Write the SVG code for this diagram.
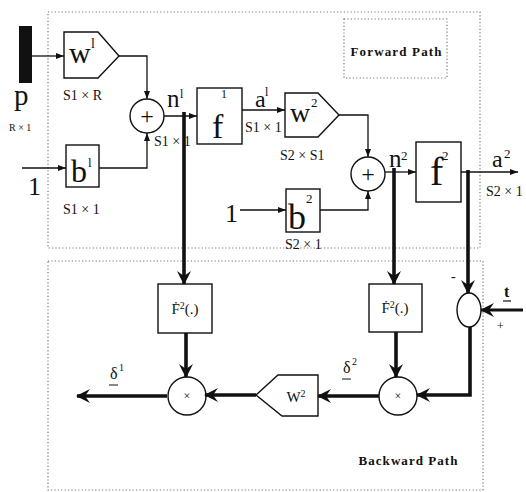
<svg xmlns="http://www.w3.org/2000/svg" width="526" height="492" viewBox="0 0 526 492">
<style>
text{font-family:"Liberation Serif","Times New Roman",serif;fill:#111}
.box{fill:none;stroke:#111;stroke-width:1.4}
.dot{fill:none;stroke:#777;stroke-width:1.2;stroke-dasharray:1.2,2.2}
.thin{fill:none;stroke:#111;stroke-width:1.3}
.thick{fill:none;stroke:#111;stroke-width:3.6}
.dim{font-size:14px}
.lbl{font-size:15px}
.bold{font-weight:bold;font-size:13px}
</style>
<defs>
<marker id="a" viewBox="0 0 8 6" refX="8" refY="3" markerWidth="8" markerHeight="6" markerUnits="userSpaceOnUse" orient="auto"><path d="M0,0 L8,3 L0,6 z" fill="#111"/></marker>
<marker id="A" viewBox="0 0 14 14" refX="13" refY="7" markerWidth="14" markerHeight="14" markerUnits="userSpaceOnUse" orient="auto"><path d="M0,0 L14,7 L0,14 L5,7 z" fill="#111"/></marker>
</defs>
<rect width="526" height="492" fill="#fff"/>
<g id="frames">
<rect class="dot" x="48" y="12" width="432" height="236"/>
<rect class="dot" x="344" y="19" width="103" height="59"/>
<rect class="dot" x="48" y="261" width="435" height="229"/>
<text class="bold" x="396" y="56" text-anchor="middle" textLength="91">Forward Path</text>
<text class="bold" x="408" y="465" text-anchor="middle" textLength="99">Backward Path</text>
</g>
<g id="connectors">
<line class="thin" x1="32" y1="56" x2="64" y2="56" marker-end="url(#a)"/>
<polyline class="thin" points="119,56 147,56 147,99" marker-end="url(#a)"/>
<line class="thin" x1="22" y1="168" x2="66" y2="168" marker-end="url(#a)"/>
<polyline class="thin" points="99,168 147,168 147,133" marker-end="url(#a)"/>
<line class="thin" x1="164" y1="116" x2="197" y2="116" marker-end="url(#a)"/>
<line class="thin" x1="242" y1="110" x2="285" y2="110" marker-end="url(#a)"/>
<polyline class="thin" points="339,115 368,115 368,157" marker-end="url(#a)"/>
<line class="thin" x1="240" y1="210" x2="286" y2="210" marker-end="url(#a)"/>
<polyline class="thin" points="320,210 368,210 368,191" marker-end="url(#a)"/>
<line class="thin" x1="385" y1="172" x2="416" y2="172" marker-end="url(#a)"/>
<line class="thin" x1="461" y1="172" x2="518" y2="172" marker-end="url(#a)"/>
<line class="thick" x1="184" y1="112" x2="184" y2="284" marker-end="url(#A)"/>
<line class="thick" x1="394" y1="168" x2="394" y2="284" marker-end="url(#A)"/>
<line class="thick" x1="468" y1="170" x2="468" y2="293" marker-end="url(#A)"/>
<line class="thick" x1="186" y1="333" x2="186" y2="377" marker-end="url(#A)"/>
<line class="thick" x1="396" y1="332" x2="396" y2="377" marker-end="url(#A)"/>
<line class="thick" x1="167" y1="396" x2="77" y2="396" marker-end="url(#A)"/>
<line class="thick" x1="379" y1="396" x2="318" y2="396" marker-end="url(#A)"/>
<line class="thick" x1="256" y1="395" x2="205" y2="395" marker-end="url(#A)"/>
<polyline class="thick" points="470,327 470,395 417,395" marker-end="url(#A)"/>
<line class="thick" style="stroke-width:3" x1="523" y1="310" x2="481" y2="310" marker-end="url(#A)"/>
</g>
<g id="p">
<rect x="19" y="26" width="13" height="57" fill="#111"/>
<text x="14" y="105" font-size="29">p</text>
<text x="9" y="131" font-size="10">R × 1</text>
</g>
<g id="w1">
<polygon class="box" points="64,32 98,32 119,56 98,78 64,78"/>
<text x="69" y="63" font-size="30">w</text>
<text x="91" y="48" font-size="14">l</text>
<text class="dim" x="63" y="100">S1 × R</text>
</g>
<g id="b1">
<rect class="box" x="66" y="145" width="33" height="42"/>
<text x="71" y="182" font-size="32">b</text>
<text x="88" y="167" font-size="13">l</text>
<text x="28" y="195" font-size="26">1</text>
<text class="dim" x="63" y="214">S1 × 1</text>
</g>
<g id="sum1">
<circle class="box" cx="147" cy="116" r="17"/>
<text x="147" y="124" font-size="24" text-anchor="middle">+</text>
<text x="167" y="107" font-size="25">n</text>
<text x="180" y="98" font-size="12">l</text>
<text class="dim" x="154" y="146">S1 × 1</text>
</g>
<g id="f1">
<rect class="box" x="197" y="88" width="45" height="56"/>
<text x="212" y="138" font-size="34">f</text>
<text x="221" y="98" font-size="12">1</text>
<text x="255" y="107" font-size="24">a</text>
<text x="265" y="96" font-size="12">l</text>
<text class="dim" x="245" y="132">S1 × 1</text>
</g>
<g id="w2">
<polygon class="box" points="285,93 318,93 339,115 318,137 285,137"/>
<text x="290" y="122" font-size="28">w</text>
<text x="311" y="107" font-size="13">2</text>
<text class="dim" x="280" y="160">S2 × S1</text>
</g>
<g id="b2">
<rect class="box" x="286" y="189" width="34" height="43"/>
<text x="288" y="229" font-size="36">b</text>
<text x="306" y="203" font-size="13">2</text>
<text x="225" y="222" font-size="26">1</text>
<text class="dim" x="285" y="249">S2 × 1</text>
</g>
<g id="sum2">
<circle class="box" cx="368" cy="174" r="17"/>
<text x="368" y="182" font-size="24" text-anchor="middle">+</text>
<text x="389" y="167" font-size="25">n</text>
<text x="401" y="160" font-size="13">2</text>
</g>
<g id="f2">
<rect class="box" x="416" y="142" width="45" height="60"/>
<text x="430" y="185" font-size="40">f</text>
<text x="442" y="160" font-size="13">2</text>
<text x="492" y="167" font-size="24">a</text>
<text x="504" y="158" font-size="13">2</text>
<text class="dim" x="486" y="196">S2 × 1</text>
</g>
<g id="F1">
<rect class="box" x="158" y="284" width="54" height="49"/>
<text x="185" y="314" class="lbl" text-anchor="middle">Ḟ<tspan font-size="10" dy="-5">2</tspan><tspan dy="5">(.)</tspan></text>
</g>
<g id="F2">
<rect class="box" x="369" y="284" width="53" height="48"/>
<text x="395" y="313" class="lbl" text-anchor="middle">Ḟ<tspan font-size="10" dy="-5">2</tspan><tspan dy="5">(.)</tspan></text>
</g>
<g id="mul1">
<circle class="box" cx="187" cy="396" r="19"/>
<text x="187" y="400" font-size="12" text-anchor="middle">×</text>
<text x="110" y="379" font-size="16">δ</text>
<text x="119" y="371" font-size="10">1</text>
<line x1="109" y1="385" x2="118" y2="385" stroke="#111" stroke-width="1"/>
</g>
<g id="mul2">
<circle class="box" cx="398" cy="396" r="19"/>
<text x="398" y="400" font-size="12" text-anchor="middle">×</text>
<text x="343" y="373" font-size="16">δ</text>
<text x="352" y="365" font-size="10">2</text>
<line x1="342" y1="379" x2="351" y2="379" stroke="#111" stroke-width="1"/>
</g>
<g id="W2b">
<polygon class="box" points="256,395 278,375 318,375 318,416 282,416"/>
<text x="296" y="402" font-size="15" text-anchor="middle">W<tspan font-size="10" dy="-5">2</tspan></text>
</g>
<g id="sub">
<ellipse class="box" cx="469" cy="310" rx="12" ry="17"/>
<text x="451" y="281" font-size="14">-</text>
<text x="497" y="330" font-size="12">+</text>
<text x="504" y="297" font-size="16" font-weight="bold">t</text>
<line x1="503" y1="301" x2="511" y2="301" stroke="#111" stroke-width="1.2"/>
</g>
</svg>
